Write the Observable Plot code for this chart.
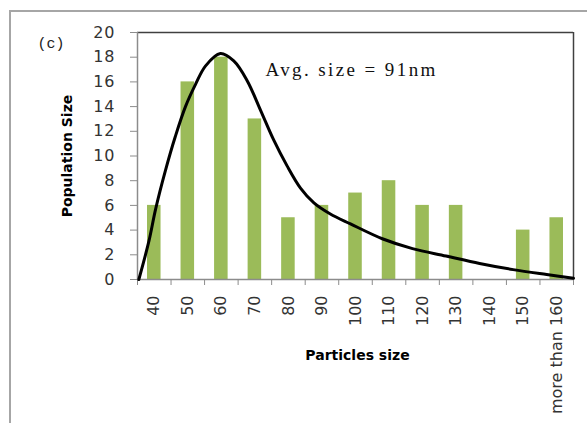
<!DOCTYPE html>
<html>
<head>
<meta charset="utf-8">
<script src="https://cdn.jsdelivr.net/npm/d3@7"></script>
<script src="https://cdn.jsdelivr.net/npm/@observablehq/plot@0.6"></script>
<style>
  html, body { margin: 0; padding: 0; background: #fff; }
  #wrap { position: relative; width: 587px; height: 423px; overflow: hidden; }
  #border { position: absolute; left: 9px; top: 10px; right: -5px; bottom: -5px;
            border-top: 2px solid #a6a6a6; border-left: 2px solid #a6a6a6; pointer-events: none; }
  #chart { position: absolute; left: 0; top: 0; }
  #chart g[aria-label="y-axis tick label"] text { letter-spacing: 1px; }
</style>
</head>
<body>
<div id="wrap"><div id="chart"></div><div id="border"></div></div>
<script>
// Particle size classes (nm) and their counts
const sizes = [40, 50, 60, 70, 80, 90, 100, 110, 120, 130, 140, 150, 160];
const sizeLabels = ["40", "50", "60", "70", "80", "90", "100", "110", "120", "130", "140", "150", "more than 160"];
const counts = [6, 16, 18, 13, 5, 6, 7, 8, 6, 6, 0, 4, 5];

// Fitted distribution curve (size in nm, population)
const curveSize = [35.4, 38.4, 40.4, 43.3, 46.3, 49.3, 52.3, 55.3, 59.7, 63.7, 67.7, 71.7, 75.6, 79.6,
  83.6, 87.6, 92.5, 98.5, 108, 117, 127, 137, 147, 157, 165];
const curveValue = [0, 3.1, 5.7, 8.8, 11.6, 14.0, 15.8, 17.3, 18.3, 17.7, 16.1, 13.7, 11.3, 9.2,
  7.4, 6.2, 5.3, 4.5, 3.3, 2.5, 1.9, 1.3, 0.8, 0.4, 0.1];

// Axis ticks
const yTicks = [0, 2, 4, 6, 8, 10, 12, 14, 16, 18, 20];
const binEdges = [35, 45, 55, 65, 75, 85, 95, 105, 115, 125, 135, 145, 155, 165];

const bars = sizes.map((s, i) => ({size: s, count: counts[i]}));
const curve = curveSize.map((s, i) => ({size: s, value: curveValue[i]}));
const labelOf = new Map(sizes.map((s, i) => [s, sizeLabels[i]]));

const sans = "'DejaVu Sans', Verdana, sans-serif";

const chart = Plot.plot({
  width: 587,
  height: 423,
  marginLeft: 137,
  marginRight: 14,
  marginTop: 32,
  marginBottom: 144,
  x: {domain: [35, 165]},
  y: {domain: [0, 20]},
  style: {background: "transparent", color: "#333"},
  marks: [
    // bars occupy the middle of each size bin
    Plot.rectY(bars, {x1: d => d.size - 5, x2: d => d.size + 5, y: "count",
      insetLeft: 10, insetRight: 10, fill: "#9bbb59"}),
    // plot area outline: grey axes, dark top/right edges
    Plot.ruleY([20], {stroke: "#404040", strokeWidth: 1.5}),
    Plot.ruleX([165], {stroke: "#404040", strokeWidth: 1.5}),
    Plot.ruleY([0], {stroke: "#8c8c8c", strokeWidth: 1.5}),
    Plot.ruleX([35], {stroke: "#8c8c8c", strokeWidth: 1.5}),
    Plot.axisY({ticks: yTicks, tickSize: 7, tickPadding: 15, stroke: "#8c8c8c",
      fontFamily: sans, fontSize: 16, fill: "#333", label: null}),
    Plot.axisX({ticks: binEdges, tickSize: 6, tickFormat: () => "", stroke: "#8c8c8c", label: null}),
    Plot.axisX({ticks: sizes, tickSize: 0, tickPadding: 16, tickRotate: -90,
      tickFormat: d => labelOf.get(d), fontFamily: sans, fontSize: 16, fill: "#333", label: null}),
    // fitted curve
    Plot.line(curve, {x: "size", y: "value", curve: "catmull-rom", stroke: "#000", strokeWidth: 3}),
    // titles and annotation
    Plot.text(["Population Size"], {frameAnchor: "left", textAnchor: "middle", dx: -70, rotate: -90,
      fontFamily: sans, fontWeight: "bold", fontSize: 14, fill: "#000"}),
    Plot.text(["Particles size"], {frameAnchor: "bottom", dx: 2, dy: 80,
      fontFamily: sans, fontWeight: "bold", fontSize: 14, fill: "#000"}),
    Plot.text(["(c)"], {frameAnchor: "top-left", textAnchor: "start", dx: -100, dy: 5,
      fontFamily: "'Liberation Mono', monospace", fontSize: 15, fill: "#222"}),
    Plot.text(["Avg. size = 91nm"], {frameAnchor: "top-left", textAnchor: "start", dx: 128, dy: 30,
      fontFamily: "'Liberation Serif', 'Times New Roman', serif", fontSize: 19, fill: "#111"})
  ]
});

// widen the annotation's letter spacing
d3.select(chart).selectAll("text").filter(function () {
  return this.textContent.startsWith("Avg.");
}).attr("letter-spacing", "2.4px");

document.getElementById("chart").appendChild(chart);
</script>
</body>
</html>
